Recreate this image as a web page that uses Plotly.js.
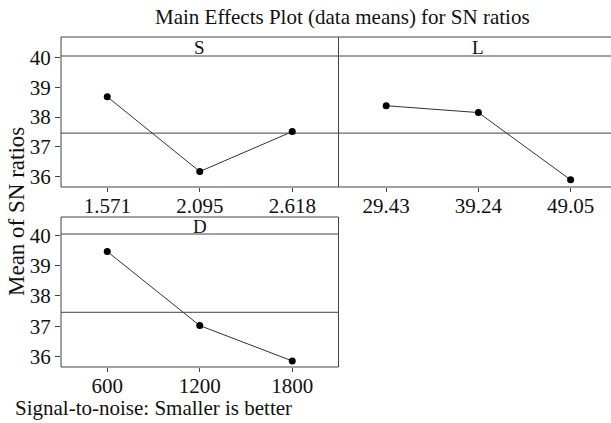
<!DOCTYPE html>
<html>
<head>
<meta charset="utf-8">
<script src="https://cdn.plot.ly/plotly-3.0.1.min.js"></script>
<style>html,body{margin:0;padding:0;background:#fff;}#chart{width:611px;height:423px;}</style>
</head>
<body>
<div id="chart"></div>
<script>
// ---- data ----
const sLevels = ["1.571", "2.095", "2.618"];
const sMeans = [38.68, 36.17, 37.51];
const lLevels = ["29.43", "39.24", "49.05"];
const lMeans = [38.38, 38.15, 35.89];
const dLevels = ["600", "1200", "1800"];
const dMeans = [39.47, 37.02, 35.85];
const panelNames = ["S", "L", "D"];
const grandMean = 37.46;
const yTicks = [36, 37, 38, 39, 40];
const chartTitle = "Main Effects Plot (data means) for SN ratios";
const yTitle = "Mean of SN ratios";
const footer = "Signal-to-noise: Smaller is better";

const W = 611, H = 423;
const FONT = "Liberation Serif, Times New Roman, serif";
const lineCol = "#444";

function px(x) { return x / W; }
function py(y) { return 1 - y / H; }

function tr(levels, means, xa, ya) {
  return {
    x: levels.map((_, i) => i + 1), y: means, xaxis: xa, yaxis: ya,
    type: "scatter", mode: "lines+markers",
    line: {color: "#333", width: 1},
    marker: {color: "#000", size: 7},
    hoverinfo: "skip", showlegend: false
  };
}

const data = [
  tr(sLevels, sMeans, "x", "y"),
  tr(lLevels, lMeans, "x2", "y2"),
  tr(dLevels, dMeans, "x3", "y3")
];

const yRange = [35.65, 40.05];
function xAx(dom, anchor, labels, range) {
  return {
    domain: dom, anchor: anchor, range: range,
    tickmode: "array", tickvals: [1, 2, 3], ticktext: labels,
    ticks: "outside", ticklen: 4, tickcolor: lineCol, tickwidth: 1,
    ticklabelstandoff: -4,
    showgrid: false, zeroline: false, showline: false,
    tickfont: {family: FONT, size: 21, color: "#111"}, fixedrange: true
  };
}
function yAx(dom, anchor, showLabels) {
  return {
    domain: dom, anchor: anchor, range: yRange,
    tickmode: "array", tickvals: yTicks,
    ticks: showLabels ? "outside" : "", ticklen: 5, tickcolor: lineCol, tickwidth: 1,
    showticklabels: showLabels,
    showgrid: false, zeroline: false, showline: false,
    tickfont: {family: FONT, size: 21, color: "#111"}, fixedrange: true
  };
}

const topDom = [py(187), py(56)];
const botDom = [py(367), py(234)];
const leftDom = [px(61), px(338.5)];
const rightDom = [px(338.5), 1];

const layout = {
  width: W, height: H,
  margin: {l: 0, r: 0, t: 0, b: 0},
  paper_bgcolor: "#fff", plot_bgcolor: "rgba(0,0,0,0)",
  showlegend: false,
  xaxis: xAx(leftDom, "y", sLevels, [0.5, 3.5]),
  yaxis: yAx(topDom, "x", true),
  xaxis2: xAx(rightDom, "y2", lLevels, [0.483, 3.438]),
  yaxis2: yAx(topDom, "x2", false),
  xaxis3: xAx(leftDom, "y3", dLevels, [0.5, 3.5]),
  yaxis3: yAx(botDom, "x3", true),
  shapes: [],
  annotations: [
    {text: chartTitle, xref: "paper", yref: "paper", x: px(342), y: py(17), showarrow: false,
     font: {family: FONT, size: 21, color: "#111"}, xanchor: "center", yanchor: "middle"},
    {text: yTitle, xref: "paper", yref: "paper", x: px(17), y: py(212), showarrow: false, textangle: -90,
     font: {family: FONT, size: 23, color: "#111"}, xanchor: "center", yanchor: "middle"},
    {text: footer, xref: "paper", yref: "paper", x: px(13), y: py(408), showarrow: false,
     font: {family: FONT, size: 21, color: "#111"}, xanchor: "left", yanchor: "middle"}
  ]
};

const panels = [
  {xa: "x", ya: "y", stripTop: 37, plotTop: 56, plotBot: 187, name: panelNames[0], x1: 1},
  {xa: "x2", ya: "y2", stripTop: 37, plotTop: 56, plotBot: 187, name: panelNames[1], x1: 1.05},
  {xa: "x3", ya: "y3", stripTop: 217, plotTop: 234, plotBot: 367, name: panelNames[2], x1: 1}
];
panels.forEach(p => {
  const xd = p.xa + " domain";
  layout.shapes.push({type: "rect", xref: xd, yref: "paper", x0: 0, x1: p.x1, y0: py(p.plotBot), y1: py(p.stripTop),
    line: {color: lineCol, width: 1}, fillcolor: "rgba(0,0,0,0)", layer: "above"});
  layout.shapes.push({type: "line", xref: xd, yref: "paper", x0: 0, x1: p.x1, y0: py(p.plotTop), y1: py(p.plotTop),
    line: {color: lineCol, width: 1}, layer: "above"});
  layout.shapes.push({type: "line", xref: xd, yref: p.ya, x0: 0, x1: p.x1, y0: grandMean, y1: grandMean,
    line: {color: lineCol, width: 1}, layer: "below"});
  layout.annotations.push({text: p.name, xref: p.xa, yref: "paper", x: 2,
    y: py((p.stripTop + p.plotTop) / 2 + 0.5), showarrow: false, xanchor: "center", yanchor: "middle",
    font: {family: FONT, size: 19, color: "#111"}});
});

Plotly.newPlot("chart", data, layout, {displayModeBar: false, staticPlot: true});
</script>
</body>
</html>
